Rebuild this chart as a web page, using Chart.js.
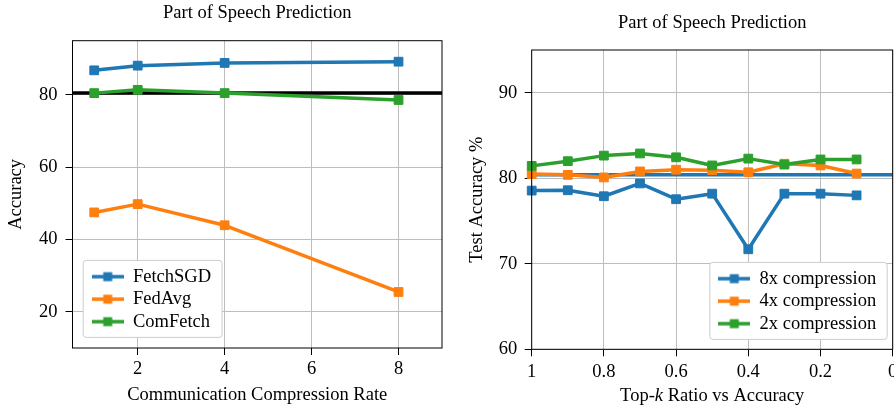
<!DOCTYPE html>
<html>
<head>
<meta charset="utf-8">
<script src="https://cdn.jsdelivr.net/npm/chart.js@4.4.1/dist/chart.umd.min.js"></script>
<style>
  body { margin: 0; background: #fff; }
  #wrap { position: relative; width: 894px; height: 410px; overflow: hidden; }
  #left { position: absolute; left: 0; top: 0; }
  #right { position: absolute; left: 450px; top: 0; }
</style>
</head>
<body>
<div id="wrap">
  <canvas id="left" width="450" height="410"></canvas>
  <canvas id="right" width="500" height="410"></canvas>
</div>
<script>
// left panel: accuracy vs compression rate
const commRates = [1, 2, 4, 8];
const fetchSgdAcc = [86.8, 88.1, 88.85, 89.2];
const fedAvgAcc = [47.5, 49.8, 43.95, 25.5];
const comFetchAcc = [80.5, 81.4, 80.5, 78.6];
const leftBaseline = 80.5;
const leftXRange = [0.5, 9];
const leftYRange = [10, 95];
const leftXTicks = [2, 4, 6, 8];
const leftYTicks = [20, 40, 60, 80];

// right panel: accuracy vs top-k ratio
const topKRatios = [1, 0.9, 0.8, 0.7, 0.6, 0.5, 0.4, 0.3, 0.2, 0.1];
const acc8x = [78.56, 78.6, 77.9, 79.4, 77.55, 78.2, 71.7, 78.2, 78.2, 78.0];
const acc4x = [80.5, 80.4, 80.1, 80.8, 81.0, 80.95, 80.7, 81.7, 81.5, 80.55];
const acc2x = [81.45, 82.0, 82.65, 82.9, 82.45, 81.5, 82.3, 81.6, 82.2, 82.2];
const rightBaseline = 80.4;
const rightXRange = [0, 1];
const rightYRange = [60, 95];
const rightXTicks = [1, 0.8, 0.6, 0.4, 0.2, 0];
const rightXTickLabels = ["1", "0.8", "0.6", "0.4", "0.2", "0"];
const rightYTicks = [60, 70, 80, 90];

const blue = "#1f77b4";
const orange = "#ff7f0e";
const green = "#2ca02c";
const FONT = "'Liberation Serif', 'Times New Roman', serif";
const SIZE = 18.5;

Chart.defaults.font.family = FONT;
Chart.defaults.font.size = SIZE;
Chart.defaults.color = "#000";
Chart.defaults.animation = false;

const pts = (xs, ys) => xs.map((x, i) => ({ x, y: ys[i] }));

const series = (label, color, xs, ys, order) => ({
  label,
  data: pts(xs, ys),
  borderColor: color,
  backgroundColor: color,
  borderWidth: 3.5,
  borderJoinStyle: "round",
  pointStyle: "rect",
  pointRadius: 6.2,
  pointBorderWidth: 1,
  pointBackgroundColor: color,
  pointBorderColor: color,
  order,
  clip: false,
});

const refLine = (color, range, y) => ({
  data: range.map((x) => ({ x, y })),
  borderColor: color,
  borderWidth: 3.5,
  pointRadius: 0,
  order: 9,
  isRef: true,
});

// little line+square handle for the legend
const handle = (color) => {
  const c = document.createElement("canvas");
  c.width = 32;
  c.height = 12;
  const g = c.getContext("2d");
  g.strokeStyle = color;
  g.lineWidth = 3.5;
  g.beginPath();
  g.moveTo(0, 6);
  g.lineTo(32, 6);
  g.stroke();
  g.fillStyle = color;
  g.fillRect(11.5, 1.5, 9, 9);
  return c;
};

const grid = { color: "#bdbdbd", lineWidth: 1, tickLength: 7, tickColor: "#000", tickWidth: 1 };

const legendOpts = (handles) => ({
  position: "chartArea",
  align: "start",
  labels: {
    usePointStyle: true,
    pointStyleWidth: 32,
    padding: 4,
    font: { size: SIZE },
    filter: (item, data) => !data.datasets[item.datasetIndex].isRef,
    sort: (a, b) => a.datasetIndex - b.datasetIndex,
    generateLabels: (chart) =>
      Chart.defaults.plugins.legend.labels
        .generateLabels(chart)
        .map((it) => ({ ...it, pointStyle: handles[it.datasetIndex] })),
  },
});

// frame around the axes + matplotlib style legend box
const panelPlugin = (legendX, legendY) => ({
  id: "panel",
  afterLayout(chart) {
    const lg = chart.legend;
    const a = chart.chartArea;
    const pad = lg.options.labels.padding;
    lg.left = legendX - pad;
    lg.top = legendY - pad;
    lg.right = a.right;
    lg.bottom = a.bottom;
  },
  afterDatasetsDraw(chart) {
    const { ctx, chartArea: a } = chart;
    ctx.save();
    ctx.strokeStyle = "#000";
    ctx.lineWidth = 1;
    ctx.strokeRect(a.left, a.top, a.right - a.left, a.bottom - a.top);

    const hb = chart.legend.legendHitBoxes;
    if (hb && hb.length) {
      const x0 = Math.min(...hb.map((h) => h.left)) - 8.5;
      const x1 = Math.max(...hb.map((h) => h.left + h.width)) + 11;
      const y0 = hb[0].top - 7;
      const last = hb[hb.length - 1];
      const y1 = last.top + last.height + 6.5;
      ctx.beginPath();
      if (ctx.roundRect) ctx.roundRect(x0, y0, x1 - x0, y1 - y0, 3);
      else ctx.rect(x0, y0, x1 - x0, y1 - y0);
      ctx.fillStyle = "#fff";
      ctx.fill();
      ctx.strokeStyle = "#cccccc";
      ctx.stroke();
    }
    ctx.restore();
    chart.legend.draw();
  },
});

const leftChart = new Chart(document.getElementById("left"), {
  type: "line",
  data: {
    datasets: [
      series("FetchSGD", blue, commRates, fetchSgdAcc, 3),
      series("FedAvg", orange, commRates, fedAvgAcc, 2),
      series("ComFetch", green, commRates, comFetchAcc, 1),
      refLine("#000", leftXRange, leftBaseline),
    ],
  },
  options: {
    responsive: false,
    events: [],
    layout: { padding: { left: 0, right: 8, top: 0, bottom: 0 }, autoPadding: false },
    scales: {
      x: {
        type: "linear",
        min: leftXRange[0],
        max: leftXRange[1],
        afterBuildTicks: (s) => { s.ticks = leftXTicks.map((v) => ({ value: v })); },
        afterFit: (s) => { s.height = 62; },
        ticks: { padding: 3.2, maxRotation: 0, autoSkip: false },
        grid,
        border: { display: false },
        title: { display: true, text: "Communication Compression Rate", padding: { top: 0, bottom: 3.9 } },
      },
      y: {
        type: "linear",
        min: leftYRange[0],
        max: leftYRange[1],
        afterBuildTicks: (s) => { s.ticks = leftYTicks.map((v) => ({ value: v })); },
        afterFit: (s) => { s.width = 72.5; },
        ticks: { padding: 8 },
        grid,
        border: { display: false },
        title: { display: true, text: "Accuracy", padding: { top: 4.9, bottom: 0 } },
      },
    },
    plugins: {
      title: {
        display: true,
        text: "Part of Speech Prediction",
        fullSize: false,
        font: { size: SIZE, weight: "normal" },
        padding: { top: 2.4, bottom: 16.1 },
      },
      legend: legendOpts([handle(blue), handle(orange), handle(green)]),
      tooltip: { enabled: false },
    },
  },
  plugins: [panelPlugin(91.7, 267.4)],
});

// x label with italic k
const topKTitle = {
  id: "topKTitle",
  afterDraw(chart) {
    const { ctx, chartArea: a } = chart;
    const parts = [["Top-", ""], ["k", "italic "], [" Ratio vs Accuracy", ""]];
    ctx.save();
    ctx.fillStyle = "#000";
    ctx.textBaseline = "middle";
    const widths = parts.map(([t, s]) => {
      ctx.font = s + SIZE + "px " + FONT;
      return ctx.measureText(t).width;
    });
    let x = (a.left + a.right) / 2 - widths.reduce((p, q) => p + q, 0) / 2;
    const y = chart.height - 14.3;
    parts.forEach(([t, s], i) => {
      ctx.font = s + SIZE + "px " + FONT;
      ctx.fillText(t, x, y);
      x += widths[i];
    });
    ctx.restore();
  },
};

const rightChart = new Chart(document.getElementById("right"), {
  type: "line",
  data: {
    datasets: [
      series("8x compression", blue, topKRatios, acc8x, 3),
      series("4x compression", orange, topKRatios, acc4x, 2),
      series("2x compression", green, topKRatios, acc2x, 1),
      refLine(blue, rightXRange, rightBaseline),
    ],
  },
  options: {
    responsive: false,
    events: [],
    layout: { padding: { left: 0, right: 57.3, top: 0, bottom: 0 }, autoPadding: false },
    scales: {
      x: {
        type: "linear",
        reverse: true,
        min: rightXRange[0],
        max: rightXRange[1],
        afterBuildTicks: (s) => { s.ticks = rightXTicks.map((v) => ({ value: v })); },
        afterFit: (s) => { s.height = 60.7; },
        ticks: { padding: 4.3, maxRotation: 0, autoSkip: false, callback: (v, i) => rightXTickLabels[i] },
        grid,
        border: { display: false },
        title: { display: false },
      },
      y: {
        type: "linear",
        min: rightYRange[0],
        max: rightYRange[1],
        afterBuildTicks: (s) => { s.ticks = rightYTicks.map((v) => ({ value: v })); },
        afterFit: (s) => { s.width = 81.7; },
        ticks: { padding: 7.5 },
        grid,
        border: { display: false },
        title: { display: true, text: "Test Accuracy %", padding: { top: 15.6, bottom: 0 } },
      },
    },
    plugins: {
      title: {
        display: true,
        text: "Part of Speech Prediction",
        fullSize: false,
        font: { size: SIZE, weight: "normal" },
        padding: { top: 11.7, bottom: 16.1 },
      },
      legend: legendOpts([handle(blue), handle(orange), handle(green)]),
      tooltip: { enabled: false },
    },
  },
  plugins: [panelPlugin(268.3, 269.4), topKTitle],
});
</script>
</body>
</html>
